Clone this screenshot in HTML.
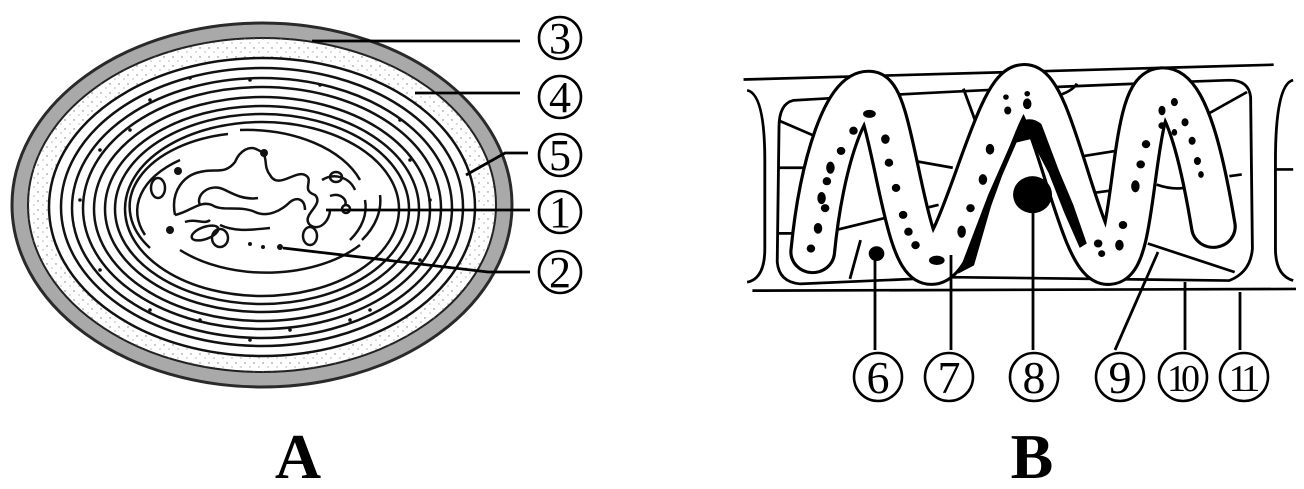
<!DOCTYPE html>
<html><head><meta charset="utf-8"><style>
html,body{margin:0;padding:0;background:#fff;}
svg{display:block;}
</style></head><body>
<svg width="1304" height="489" viewBox="0 0 1304 489" xmlns="http://www.w3.org/2000/svg">
<defs>
<pattern id="st" width="9" height="9" patternUnits="userSpaceOnUse">
<circle cx="2" cy="3" r="0.7" fill="#777"/><circle cx="7" cy="7" r="0.6" fill="#888"/>
</pattern>
</defs>
<!-- A -->
<ellipse cx="262" cy="205" rx="250" ry="182" fill="#a9a9a9" stroke="#2a2a2a" stroke-width="3"/>
<ellipse cx="262" cy="205" rx="234" ry="167" fill="#fff" stroke="#222" stroke-width="2"/>
<ellipse cx="262" cy="205" rx="234" ry="167" fill="url(#st)"/>
<ellipse cx="262" cy="207" rx="213" ry="149" fill="#fff" stroke="#111" stroke-width="2.5"/>
<g fill="none" stroke="#111" stroke-width="2.5">
<ellipse cx="262" cy="207" rx="201" ry="139"/>
<ellipse cx="262" cy="208" rx="190" ry="130"/>
<ellipse cx="262" cy="208" rx="179" ry="121"/>
<ellipse cx="262" cy="209" rx="168" ry="112"/>
<ellipse cx="262" cy="209" rx="157" ry="103"/>
<ellipse cx="262" cy="209" rx="147" ry="95"/>
<ellipse cx="262" cy="209" rx="137" ry="87"/>
<path d="M150,248 A120,74 0 0 1 228,134"/>
<path d="M240,130 A120,74 0 0 1 360,180"/>
<path d="M360,245 A120,74 0 0 1 180,250"/>
<path d="M145,235 A112,65 0 0 1 180,160"/>
<path d="M365,200 A112,65 0 0 1 350,240"/>
<path d="M380,195 A120,74 0 0 1 362,240"/>
<path d="M175,215 C170,190 185,175 200,172 C215,168 225,175 235,162 C240,150 250,145 258,150 C270,155 262,165 270,175 C278,190 295,170 305,175 C315,180 300,190 315,195 C325,205 300,215 310,225 C320,232 330,220 330,210"/>
<path d="M175,215 C190,212 200,200 212,205 C222,212 240,205 255,212 C268,218 282,210 290,202 C298,196 305,200 305,210"/>
<path d="M200,205 C195,195 210,182 225,190 C235,195 245,200 258,198"/>
<path d="M185,222 C195,218 205,225 210,220"/>
<path d="M220,225 C235,232 250,230 270,228"/>
<path d="M322,180 C335,172 350,178 355,190"/>
<path d="M330,196 C340,192 348,200 345,205"/>
<ellipse cx="158" cy="188" rx="7" ry="10"/>
<ellipse cx="205" cy="233" rx="14" ry="6" transform="rotate(-20 205 233)"/>
<ellipse cx="220" cy="238" rx="8" ry="9"/>
<ellipse cx="310" cy="236" rx="7" ry="9"/>
<ellipse cx="336" cy="177" rx="6" ry="5"/>
<ellipse cx="346" cy="209" rx="4" ry="4"/>
</g>
<g fill="#111">
<circle cx="264" cy="153" r="4"/><circle cx="178" cy="171" r="4"/><circle cx="170" cy="230" r="4"/>
<circle cx="250" cy="244" r="2"/><circle cx="263" cy="247" r="2"/><circle cx="280" cy="247" r="3"/>
<circle cx="80" cy="200" r="1.8"/><circle cx="100" cy="150" r="1.8"/><circle cx="150" cy="100" r="1.8"/>
<circle cx="250" cy="80" r="1.8"/><circle cx="320" cy="85" r="1.8"/><circle cx="400" cy="120" r="1.8"/>
<circle cx="430" cy="200" r="1.8"/><circle cx="420" cy="260" r="1.8"/><circle cx="350" cy="320" r="1.8"/>
<circle cx="250" cy="340" r="1.8"/><circle cx="150" cy="310" r="1.8"/><circle cx="100" cy="270" r="1.8"/>
<circle cx="190" cy="78" r="1.8"/><circle cx="370" cy="310" r="1.8"/><circle cx="200" cy="320" r="1.8"/>
<circle cx="290" cy="330" r="1.8"/><circle cx="130" cy="130" r="1.8"/><circle cx="410" cy="160" r="1.8"/>
</g>
<g fill="none" stroke="#000" stroke-width="2.8">
<line x1="312" y1="41" x2="520" y2="41"/>
<line x1="415" y1="93" x2="520" y2="93"/>
<polyline points="466,175 505,153 528,153"/>
<line x1="326" y1="210" x2="530" y2="210"/>
<polyline points="283,248 488,272 530,272"/>
</g>
<g fill="none" stroke="#000" stroke-width="2.6">
<circle cx="560" cy="38" r="21"/><circle cx="560" cy="97" r="21"/><circle cx="560" cy="155" r="21"/>
<circle cx="560" cy="212" r="21"/><circle cx="560" cy="272" r="21"/>
</g>
<g font-family="Liberation Serif, serif" font-size="44" text-anchor="middle">
<text x="560" y="53">3</text><text x="560" y="112">4</text><text x="560" y="170">5</text>
<text x="560" y="227">1</text><text x="560" y="287">2</text>
</g>
<text x="298" y="478" font-family="Liberation Serif, serif" font-weight="bold" font-size="64" text-anchor="middle">A</text>

<!-- B -->
<g transform="translate(740,60) scale(0.3546,0.3367)" fill="none" stroke="#000" stroke-width="8" stroke-linejoin="round">
<path d="M10,58 L1505,14"/>
<path d="M35,685 L1568,680"/>
<path d="M20,90 Q70,100 70,300 L70,560 Q70,650 20,660"/>
<path d="M1560,60 Q1510,70 1510,300 L1510,560 Q1510,640 1560,655 M1510,325 L1560,325"/>
<path d="M150,120 Q110,130 110,200 L105,600 Q110,660 170,665 L600,645 L1380,655 Q1440,630 1445,560 L1440,110 Q1435,60 1380,60 Q700,85 150,120 Z"/>
<path d="M110,180 L220,230 M110,320 L200,320 M110,515 L170,515 M270,505 L560,430 M440,290 L600,320 M340,535 L310,650 M630,85 L665,185 M900,105 Q940,90 950,70 M940,290 L1090,265 M960,400 L1100,380 M1320,160 L1430,95 M1380,345 L1415,340 M1175,370 Q1230,390 1270,375 M1150,545 L1395,630"/>
<path d="M205,570 C230,300 300,90 365,95 C430,100 460,605 540,605 C620,605 720,80 800,75 C880,70 960,610 1040,605 C1120,600 1100,90 1190,85 C1270,80 1320,400 1335,495" stroke-width="132" stroke-linecap="round"/>
<path d="M205,570 C230,300 300,90 365,95 C430,100 460,605 540,605 C620,605 720,80 800,75 C880,70 960,610 1040,605 C1120,600 1100,90 1190,85 C1270,80 1320,400 1335,495" stroke="#fff" stroke-width="114" stroke-linecap="round"/>
</g>
<g transform="translate(740,60) scale(0.3546,0.3367)" fill="#000">
<path d="M615,635 L700,400 L790,185 Q820,165 850,190 L900,330 L940,430 L978,545 L958,558 L915,455 L870,335 L820,235 L780,245 L720,390 L660,610 Z"/>
<circle cx="825" cy="400" r="55"/>
<circle cx="385" cy="575" r="22"/>
<ellipse cx="365" cy="160" rx="18" ry="12"/><ellipse cx="320" cy="210" rx="12" ry="12"/><ellipse cx="285" cy="270" rx="12" ry="12"/>
<ellipse cx="255" cy="320" rx="12" ry="18"/><ellipse cx="245" cy="360" rx="12" ry="12"/><ellipse cx="230" cy="410" rx="12" ry="18"/>
<ellipse cx="240" cy="440" rx="12" ry="12"/><ellipse cx="220" cy="500" rx="12" ry="16"/><ellipse cx="200" cy="560" rx="12" ry="12"/>
<ellipse cx="410" cy="235" rx="12" ry="14"/><ellipse cx="420" cy="305" rx="12" ry="12"/><ellipse cx="440" cy="380" rx="12" ry="12"/>
<ellipse cx="460" cy="460" rx="12" ry="12"/><ellipse cx="475" cy="510" rx="12" ry="12"/><ellipse cx="495" cy="550" rx="12" ry="12"/>
<ellipse cx="555" cy="595" rx="22" ry="14"/><ellipse cx="625" cy="510" rx="12" ry="18"/><ellipse cx="650" cy="440" rx="12" ry="12"/>
<ellipse cx="685" cy="355" rx="12" ry="16"/><ellipse cx="705" cy="265" rx="12" ry="16"/><ellipse cx="755" cy="150" rx="10" ry="12"/>
<ellipse cx="810" cy="130" rx="12" ry="16"/><ellipse cx="750" cy="110" rx="8" ry="8"/><ellipse cx="810" cy="100" rx="8" ry="8"/>
<ellipse cx="1010" cy="545" rx="12" ry="12"/><ellipse cx="1070" cy="550" rx="12" ry="16"/><ellipse cx="1080" cy="490" rx="12" ry="12"/>
<ellipse cx="1020" cy="575" rx="10" ry="10"/><ellipse cx="1115" cy="375" rx="12" ry="18"/><ellipse cx="1130" cy="310" rx="12" ry="12"/>
<ellipse cx="1145" cy="250" rx="12" ry="12"/><ellipse cx="1190" cy="150" rx="10" ry="14"/><ellipse cx="1225" cy="125" rx="10" ry="12"/>
<ellipse cx="1190" cy="195" rx="10" ry="10"/><ellipse cx="1255" cy="185" rx="10" ry="12"/><ellipse cx="1275" cy="240" rx="10" ry="12"/>
<ellipse cx="1290" cy="300" rx="10" ry="12"/><ellipse cx="1300" cy="340" rx="8" ry="10"/><ellipse cx="1225" cy="215" rx="8" ry="10"/>
</g>
<g fill="none" stroke="#000" stroke-width="2.8">
<line x1="875" y1="252" x2="875" y2="350"/>
<line x1="951" y1="255" x2="951" y2="350"/>
<line x1="1033" y1="212" x2="1033" y2="350"/>
<line x1="1158" y1="252" x2="1115" y2="350"/>
<line x1="1185" y1="282" x2="1185" y2="350"/>
<line x1="1240" y1="292" x2="1240" y2="350"/>
</g>
<g fill="none" stroke="#000" stroke-width="2.6">
<circle cx="878" cy="377" r="24"/><circle cx="949" cy="377" r="24"/><circle cx="1034" cy="377" r="24"/>
<circle cx="1120" cy="377" r="24"/><circle cx="1183" cy="377" r="24"/><circle cx="1244" cy="377" r="24"/>
</g>
<g font-family="Liberation Serif, serif" font-size="46" text-anchor="middle">
<text x="878" y="393">6</text><text x="949" y="393">7</text><text x="1034" y="393">8</text><text x="1120" y="393">9</text>
<text x="1181" y="391" font-size="38" letter-spacing="-5">10</text><text x="1242" y="391" font-size="38" letter-spacing="-5">11</text>
</g>
<text x="1032" y="478" font-family="Liberation Serif, serif" font-weight="bold" font-size="64" text-anchor="middle">B</text>
</svg>
</body></html>
